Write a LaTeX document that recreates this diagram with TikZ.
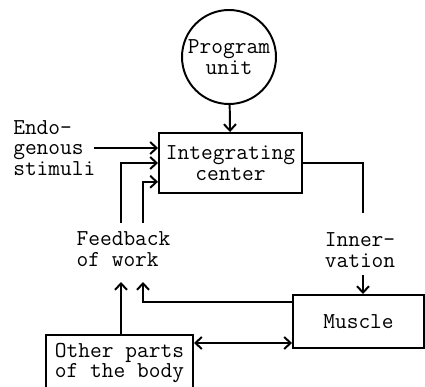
\documentclass[tikz,border=0pt]{standalone}
\usepackage{tikz}
\usetikzlibrary{positioning,arrows.meta,calc}

\begin{document}
\begin{tikzpicture}[
    every node/.style={font=\ttfamily\fontsize{16.2}{14.6}\selectfont},
    block/.style={rectangle, draw, line width=1.4pt, align=center, inner sep=0pt},
    unitcircle/.style={circle, draw, line width=1.4pt, align=center, inner sep=0pt, minimum size=2.35cm},
    txt/.style={align=left, inner sep=0pt},
    line/.style={line width=1.4pt},
    arrow/.style={line, -{Straight Barb[length=1.6mm, width=3mm]}},
    darrow/.style={line, {Straight Barb[length=1.6mm, width=3mm]}-{Straight Barb[length=1.6mm, width=3mm]}}
]
\useasboundingbox (0,0) rectangle (10.625,-9.675);

%% ---- Blocks ----
\node[unitcircle] (prog) at (5.725,-1.425) {Program\\unit};
\node[block, minimum width=3.575cm, minimum height=1.5cm] (integ) at (5.7625,-4.075) {Integrating\\center};
\node[block, minimum width=3.275cm, minimum height=1.325cm] (muscle) at (8.9625,-8.0375) {Muscle};
\node[block, minimum width=3.675cm, minimum height=1.4cm] (other) at (2.9875,-9.075) {Other parts\\of the body};

%% ---- Labels ----
\node[txt, anchor=west] (endo) at (0.325,-3.7) {Endo-\\genous\\stimuli};
\node[txt] (feedback) at (3.0875,-6.225) {Feedback\\of work};
\node[txt] (innerv) at (9.0,-6.25) {Inner-\\vation};

%% ---- Free ends ----
\coordinate (fbleft) at (3.025,-5.575);
\coordinate (fbright) at (3.575,-5.575);
\coordinate (fbleftin) at (3.025,-7.05);
\coordinate (fbrightin) at (3.575,-7.05);
\coordinate (innertop) at (9.075,-5.325);
\coordinate (innerbot) at (9.075,-6.875);

%% ---- Arrows ----
\draw[arrow] (prog) -- (integ);
\draw[arrow] ([xshift=-0.05cm]endo.east) -- (endo.east -| integ.west);
\draw[arrow] (fbleft) |- (integ.west);
\draw[arrow] (fbright) |- ([yshift=-0.47cm]integ.west);
\draw[line] (integ.east) -| (innertop);
\draw[arrow] (innerbot) -- (innerbot |- muscle.north);
\draw[arrow] ([yshift=0.49cm]muscle.west) -| (fbrightin);
\draw[arrow] (other.north -| fbleftin) -- (fbleftin);
\draw[darrow] ([yshift=0.5cm]other.east) -- ([yshift=0.5cm]other.east -| muscle.west);

\end{tikzpicture}
\end{document}
